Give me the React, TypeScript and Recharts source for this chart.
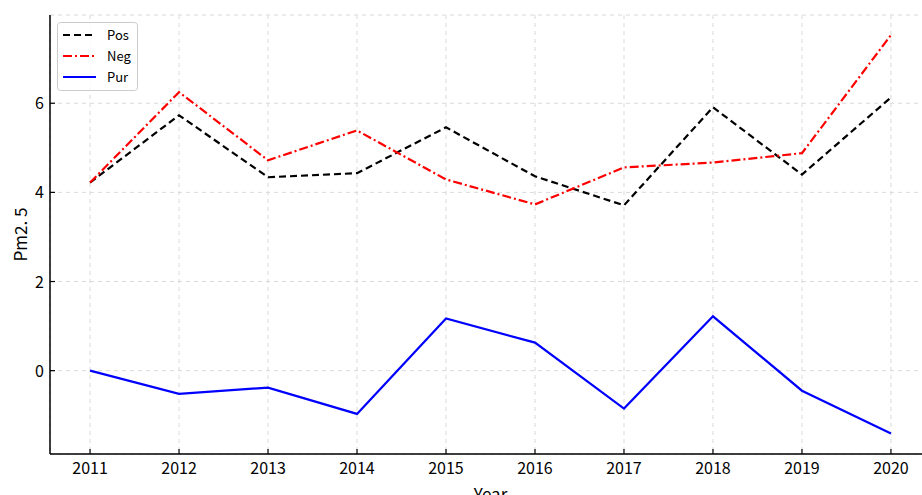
import React from "react";
import { LineChart, Line, XAxis, YAxis, CartesianGrid, Legend } from "recharts";

const years = [2011, 2012, 2013, 2014, 2015, 2016, 2017, 2018, 2019, 2020];
const pos = [4.22, 5.73, 4.34, 4.43, 5.46, 4.36, 3.71, 5.91, 4.4, 6.13];
const neg = [4.22, 6.25, 4.72, 5.39, 4.29, 3.73, 4.56, 4.67, 4.88, 7.53];
const pur = [0.0, -0.52, -0.38, -0.97, 1.17, 0.63, -0.85, 1.22, -0.45, -1.41];
const yTicks = [0, 2, 4, 6];

const data = years.map((y, i) => ({ year: y, Pos: pos[i], Neg: neg[i], Pur: pur[i] }));

const FONT = "'Noto Sans CJK SC', 'DejaVu Sans', sans-serif";

const legendItems = [
  { name: "Pos", color: "#000000", dash: "7 4" },
  { name: "Neg", color: "#ff0000", dash: "9 3 2 3" },
  { name: "Pur", color: "#0000ff", dash: undefined as string | undefined },
];

function XTick(props: any) {
  const { x, y, payload } = props;
  return (
    <g>
      <line x1={x} y1={y} x2={x} y2={y - 5} stroke="#000" strokeWidth={1.2} />
      <text x={x} y={y + 20} textAnchor="middle" fontSize={16} fontFamily={FONT} fill="#000">
        {payload.value}
      </text>
    </g>
  );
}

function YTick(props: any) {
  const { x, y, payload } = props;
  return (
    <g>
      <line x1={x} y1={y} x2={x + 5} y2={y} stroke="#000" strokeWidth={1.2} />
      <text x={x - 6} y={y + 6} textAnchor="end" fontSize={16} fontFamily={FONT} fill="#000">
        {payload.value}
      </text>
    </g>
  );
}

function LegendBox() {
  return (
    <svg width={82} height={70} style={{ display: "block" }}>
      <rect x={0.5} y={0.5} width={80} height={68} rx={3} fill="#fff" fillOpacity={0.8} stroke="#cccccc" />
      {legendItems.map((it, i) => (
        <g key={it.name}>
          <line x1={6} x2={39} y1={13 + i * 21} y2={13 + i * 21} stroke={it.color} strokeWidth={2} strokeDasharray={it.dash} />
          <text x={50} y={18 + i * 21} fontSize={13} fontFamily={FONT} fill="#000">
            {it.name}
          </text>
        </g>
      ))}
    </svg>
  );
}

export default function App() {
  return (
    <div style={{ position: "absolute", left: 0, top: 0, width: 922, height: 495, overflow: "hidden", background: "#fff" }}>
      <LineChart width={940} height={495} data={data} margin={{ top: 15, right: 9, left: 0, bottom: 0 }}>
        <CartesianGrid stroke="#d9d9d9" strokeDasharray="4 4" />
        <XAxis
          dataKey="year"
          type="number"
          domain={[2010.55, 2020.45]}
          ticks={years}
          allowDataOverflow
          height={41}
          tickSize={0}
          tickMargin={0}
          tick={<XTick />}
          axisLine={{ stroke: "#000", strokeWidth: 1.5 }}
          label={{ value: "Year", position: "insideBottom", offset: -6, fontSize: 17, fontFamily: FONT, fill: "#000" }}
        />
        <XAxis
          xAxisId="top"
          dataKey="year"
          type="number"
          orientation="top"
          domain={[2010.55, 2020.45]}
          height={0}
          tick={false}
          tickLine={false}
          axisLine={{ stroke: "#000", strokeWidth: 1.5 }}
        />
        <YAxis
          type="number"
          domain={[-1.87, 7.98]}
          ticks={yTicks}
          allowDataOverflow
          width={50}
          tickSize={0}
          tickMargin={0}
          tick={<YTick />}
          axisLine={{ stroke: "#000", strokeWidth: 1.5 }}
          label={{ value: "Pm2. 5", angle: -90, position: "insideLeft", offset: 21, fontSize: 17, fontFamily: FONT, fill: "#000", style: { textAnchor: "middle" } }}
        />
        <Legend
          layout="horizontal"
          verticalAlign="middle"
          align="center"
          wrapperStyle={{ position: "absolute", left: 57, top: 22, width: 82, height: 70 }}
          content={() => <LegendBox />}
        />
        <Line type="linear" dataKey="Pos" stroke="#000000" strokeWidth={2.2} strokeDasharray="7 4" dot={false} isAnimationActive={false} />
        <Line type="linear" dataKey="Neg" stroke="#ff0000" strokeWidth={2.2} strokeDasharray="9 3 2 3" dot={false} isAnimationActive={false} />
        <Line type="linear" dataKey="Pur" stroke="#0000ff" strokeWidth={2.2} dot={false} isAnimationActive={false} />
      </LineChart>
    </div>
  );
}
